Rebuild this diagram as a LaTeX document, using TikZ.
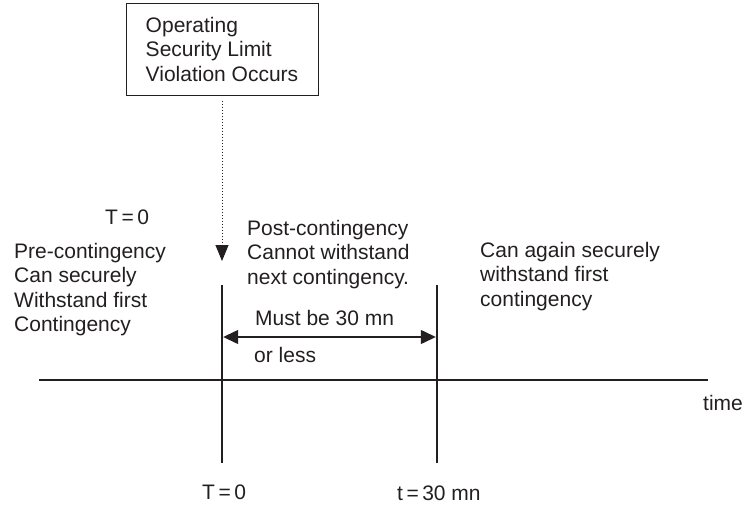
\documentclass[tikz,border=0pt]{standalone}
\usepackage{fontspec}
\setmainfont{Liberation Sans}
\usetikzlibrary{arrows.meta,positioning}
\definecolor{inkcolor}{HTML}{231F20}

\begin{document}
\begin{tikzpicture}[x=1pt, y=-1pt, font=\fontsize{21}{24.5}\selectfont, color=inkcolor,
  txt/.style={inner sep=0pt, align=left, anchor=north west},
  tag/.style={inner sep=0pt, anchor=base west},
  tick/.style={line width=2.3pt},
  span/.style={line width=1.3pt, {Triangle[length=15pt,width=14pt]}-{Triangle[length=15pt,width=14pt]}}]
  \useasboundingbox (0,0) rectangle (744,504);
  % Triggering event
  \node[draw, line width=1pt, align=left, minimum width=192pt, minimum height=92pt, inner sep=0pt] (event) at (222,49) {Operating\\Security Limit\\Violation Occurs};
  \coordinate (hit) at (222,261);
  \draw[dotted, line width=1pt, -{Triangle[length=16pt,width=13pt]}, shorten <=5pt] (event.south) -- (hit);
  % Time axis
  \coordinate (axisL) at (39,380);
  \coordinate (axisR) at (708,380);
  \draw[line width=1.3pt] (axisL) -- (axisR);
  % Start and end markers
  \coordinate (startTop) at (222,285);
  \coordinate (startBot) at (222,463);
  \coordinate (endTop) at (437,285);
  \coordinate (endBot) at (437,463);
  \draw[tick] (startTop) -- (startBot);
  \draw[tick] (endTop) -- (endBot);
  % Allowed interval
  \coordinate (spanL) at (223.2,337);
  \coordinate (spanR) at (435.8,337);
  \draw[span] (spanL) -- (spanR);
  % Labels
  \node[tag] (tzero) at (105,224) {T\,=\,0};
  \node[txt] (pre) at (14,242.7) {Pre-contingency\\Can securely\\Withstand first\\Contingency};
  \node[txt] (post) at (247,219.7) {Post-contingency\\Cannot withstand\\next contingency.};
  \node[txt] (again) at (480,241.7) {Can again securely\\withstand first\\contingency};
  \node[tag] (limit) at (255,325) {Must be 30 mn};
  \node[tag] (less) at (254,362) {or less};
  \node[tag] (time) at (703,410) {time};
  \node[tag] (tstart) at (202,499) {T\,=\,0};
  \node[tag] (tend) at (397,500) {t\,=\,30 mn};
\end{tikzpicture}
\end{document}
